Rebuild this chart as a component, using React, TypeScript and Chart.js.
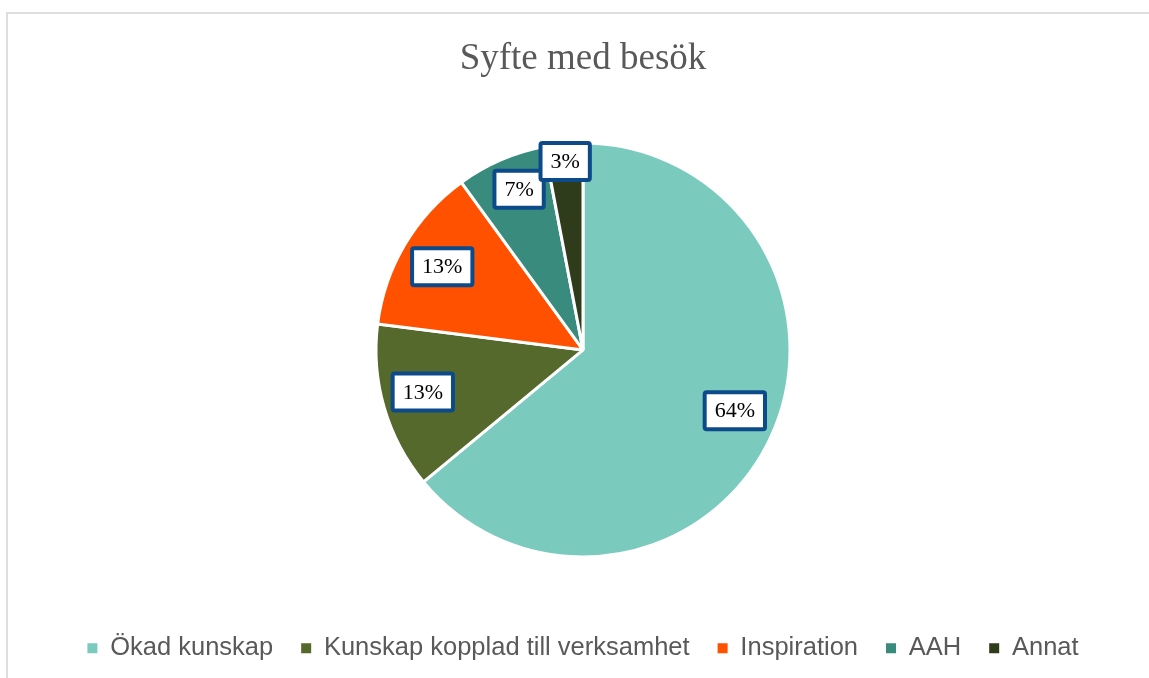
import React, { useEffect, useRef } from "react";
import { Chart, registerables } from "chart.js";

Chart.register(...registerables);

const titleText = "Syfte med besök";
const categories = [
  "Ökad kunskap",
  "Kunskap kopplad till verksamhet",
  "Inspiration",
  "AAH",
  "Annat",
];
const shares = [64, 13, 13, 7, 3];
const valueLabels = ["64%", "13%", "13%", "7%", "3%"];
const sliceColors = ["#7BCABE", "#55692D", "#FF5100", "#388B7D", "#2E3C1C"];

// label placement (radius fraction, angle nudge in degrees)
const labelRadius = [0.79, 0.8, 0.79, 0.835, 0.915];
const labelNudge = [-3.4, 1.5, 0, 1.7, 0];

const boxLabelsPlugin = {
  id: "boxLabels",
  afterDatasetsDraw(chart: any) {
    const ctx = chart.ctx;
    const meta = chart.getDatasetMeta(0);
    ctx.save();
    ctx.font = "22px 'Liberation Serif', 'Times New Roman', serif";
    ctx.textAlign = "center";
    ctx.textBaseline = "middle";
    meta.data.forEach((arc: any, i: number) => {
      const { x, y, startAngle, endAngle, outerRadius } = arc.getProps(
        ["x", "y", "startAngle", "endAngle", "outerRadius"],
        true
      );
      const mid = (startAngle + endAngle) / 2 + (labelNudge[i] * Math.PI) / 180;
      const r = outerRadius * labelRadius[i];
      const cx = x + Math.cos(mid) * r;
      const cy = y + Math.sin(mid) * r;
      const text = valueLabels[i];
      const tw = ctx.measureText(text).width;
      const w = tw + 20;
      const h = 37;
      const bx = cx - w / 2;
      const by = cy - h / 2;
      ctx.beginPath();
      if ((ctx as any).roundRect) (ctx as any).roundRect(bx, by, w, h, 2);
      else ctx.rect(bx, by, w, h);
      ctx.fillStyle = "#FFFFFF";
      ctx.fill();
      ctx.lineWidth = 4;
      ctx.strokeStyle = "#0D4A89";
      ctx.stroke();
      ctx.fillStyle = "#000000";
      ctx.fillText(text, cx, cy + 1);
    });
    ctx.restore();
  },
};

export default function App() {
  const canvasRef = useRef<HTMLCanvasElement | null>(null);

  useEffect(() => {
    if (!canvasRef.current) return;
    const chart = new Chart(canvasRef.current, {
      type: "pie",
      data: {
        labels: categories,
        datasets: [
          {
            data: shares,
            backgroundColor: sliceColors,
            borderColor: "#FFFFFF",
            borderWidth: 3,
          },
        ],
      },
      options: {
        responsive: false,
        animation: false,
        devicePixelRatio: 1,
        radius: 207,
        layout: { padding: { left: 17, right: 0, top: 0, bottom: 7 } },
        events: [],
        plugins: {
          tooltip: { enabled: false },
          title: {
            display: true,
            text: titleText,
            color: "#595959",
            font: { family: "'Liberation Serif', 'Times New Roman', serif", size: 37, weight: "normal" },
            padding: { top: 37, bottom: 11 },
          },
          legend: {
            display: true,
            position: "bottom",
            labels: {
              boxWidth: 10,
              boxHeight: 10,
              padding: 28,
              color: "#595959",
              font: { family: "'Liberation Sans', Arial, sans-serif", size: 25.5 },
              generateLabels: (c: any) =>
                c.data.labels.map((l: string, i: number) => ({
                  text: l,
                  fillStyle: sliceColors[i],
                  strokeStyle: sliceColors[i],
                  lineWidth: 0,
                  hidden: false,
                  index: i,
                  fontColor: "#595959",
                })),
            },
          },
        },
      } as any,
      plugins: [boxLabelsPlugin],
    });
    return () => chart.destroy();
  }, []);

  return (
    <div
      style={{
        position: "fixed",
        left: 0,
        top: 0,
        width: 1149,
        height: 678,
        background: "#FFFFFF",
        overflow: "hidden",
      }}
    >
      <div
        style={{
          position: "absolute",
          left: 6,
          top: 12,
          width: 1200,
          height: 700,
          borderLeft: "2px solid #DEDEDE",
          borderTop: "2px solid #DEDEDE",
        }}
      />
      <canvas
        ref={canvasRef}
        width={1149}
        height={678}
        style={{ position: "absolute", left: 0, top: 0, width: 1149, height: 678 }}
      />
    </div>
  );
}
